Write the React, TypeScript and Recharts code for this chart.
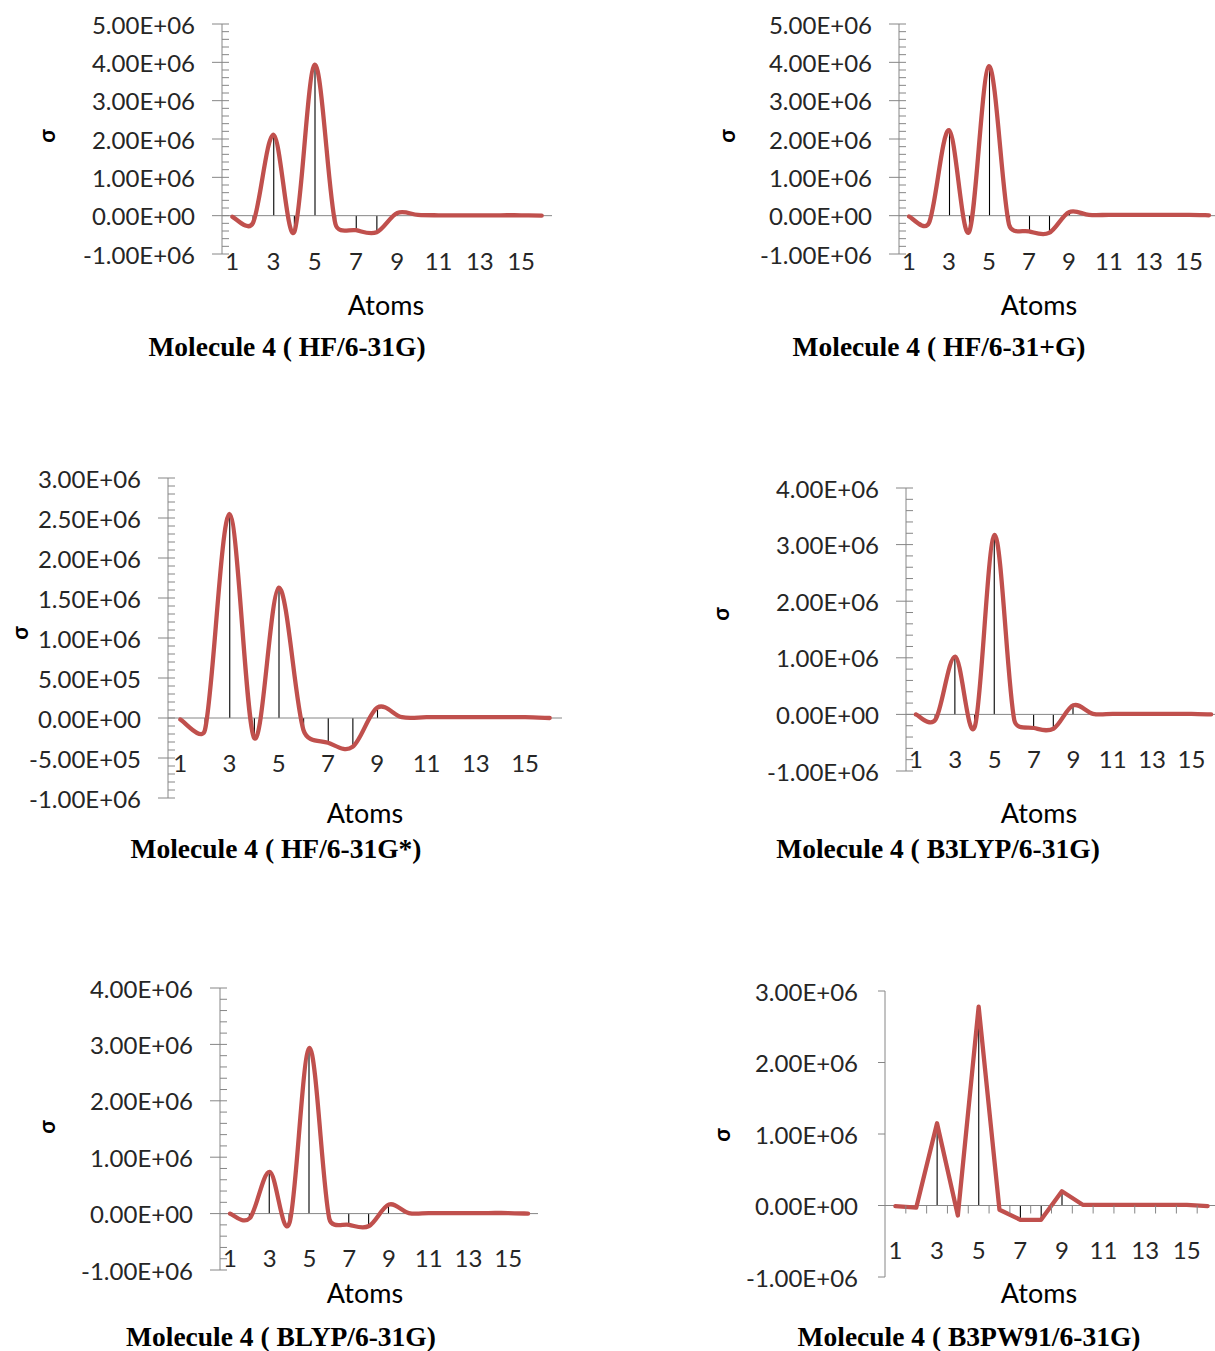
import React from "react"
import { ComposedChart, Line, Bar, XAxis, YAxis, ReferenceLine } from "recharts"

// ── Shared category axis ──────────────────────────────────────────────────────
const atoms = [1, 2, 3, 4, 5, 6, 7, 8, 9, 10, 11, 12, 13, 14, 15, 16]
const labeledAtoms = [1, 3, 5, 7, 9, 11, 13, 15]

// ── Shielding (σ) per atom, one list per method ───────────────────────────────
const sigmaHF631G = [
  -0.03e6, -0.19e6, 2.11e6, -0.43e6, 3.94e6, -0.22e6, -0.38e6, -0.43e6,
  0.07e6, 0.02e6, 0.01e6, 0.01e6, 0.01e6, 0.01e6, 0.01e6, 0.0,
]
const sigmaHF631pG = [
  -0.02e6, -0.19e6, 2.23e6, -0.43e6, 3.9e6, -0.23e6, -0.41e6, -0.45e6,
  0.09e6, 0.02e6, 0.02e6, 0.02e6, 0.02e6, 0.02e6, 0.02e6, 0.01e6,
]
const sigmaHF631Gs = [
  -0.02e6, -0.15e6, 2.55e6, -0.25e6, 1.63e6, -0.15e6, -0.31e6, -0.36e6,
  0.13e6, 0.01e6, 0.01e6, 0.01e6, 0.01e6, 0.01e6, 0.01e6, 0.0,
]
const sigmaB3LYP = [
  0.0, -0.09e6, 1.02e6, -0.21e6, 3.17e6, -0.1e6, -0.24e6, -0.25e6,
  0.16e6, 0.01e6, 0.01e6, 0.01e6, 0.01e6, 0.01e6, 0.01e6, 0.0,
]
const sigmaBLYP = [
  0.0, -0.08e6, 0.74e6, -0.16e6, 2.94e6, -0.09e6, -0.2e6, -0.22e6,
  0.16e6, 0.01e6, 0.01e6, 0.01e6, 0.01e6, 0.01e6, 0.01e6, 0.0,
]
const sigmaB3PW91 = [
  -0.01e6, -0.03e6, 1.15e6, -0.14e6, 2.78e6, -0.06e6, -0.2e6, -0.2e6,
  0.2e6, 0.01e6, 0.01e6, 0.01e6, 0.01e6, 0.01e6, 0.01e6, -0.01e6,
]

// ── Major y ticks ─────────────────────────────────────────────────────────────
const ticks5M = [-1e6, 0, 1e6, 2e6, 3e6, 4e6, 5e6]
const ticks3M = [-1e6, -5e5, 0, 5e5, 1e6, 1.5e6, 2e6, 2.5e6, 3e6]
const ticks4M = [-1e6, 0, 1e6, 2e6, 3e6, 4e6]
const ticks3Mwide = [-1e6, 0, 1e6, 2e6, 3e6]

const RED = "#C0504D"
const AXIS = "#868686"
const TEXT = "#262626"
const SANS = "Lato, 'Open Sans', sans-serif"
const SERIF = "'Liberation Serif', 'Times New Roman', serif"
const TICK_FONT = 24

// Spreadsheet-style smoothed line: Catmull-Rom tangents (1/6 of the neighbour
// chord), with each control arm capped at half of its own segment so short
// segments next to steep ones don't overshoot.
class SmoothCurve {
  _context: any
  _pts: [number, number][] = []
  constructor(context: any) {
    this._context = context
  }
  areaStart() {}
  areaEnd() {}
  lineStart() {
    this._pts = []
  }
  point(x: number, y: number) {
    this._pts.push([+x, +y])
  }
  lineEnd() {
    const p = this._pts
    const ctx = this._context
    const n = p.length
    if (!n) return
    ctx.moveTo(p[0][0], p[0][1])
    if (n === 1) return
    if (n === 2) {
      ctx.lineTo(p[1][0], p[1][1])
      return
    }
    const tan = p.map((_, i) => {
      const a = p[Math.max(i - 1, 0)]
      const b = p[Math.min(i + 1, n - 1)]
      return [(b[0] - a[0]) / 6, (b[1] - a[1]) / 6]
    })
    const cap = (t: number[], d: number) => {
      const l = Math.hypot(t[0], t[1])
      const s = l > d * 0.5 ? (d * 0.5) / l : 1
      return [t[0] * s, t[1] * s]
    }
    for (let i = 0; i < n - 1; i++) {
      const a = p[i]
      const b = p[i + 1]
      const d = Math.hypot(b[0] - a[0], b[1] - a[1])
      const ta = cap(tan[i], d)
      const tb = cap(tan[i + 1], d)
      ctx.bezierCurveTo(a[0] + ta[0], a[1] + ta[1], b[0] - tb[0], b[1] - tb[1], b[0], b[1])
    }
  }
}
const smoothCurve = (context: any) => new SmoothCurve(context)

// e.g. 5.00E+06
function sci(v: number) {
  if (v === 0) return "0.00E+00"
  const exp = Math.floor(Math.log10(Math.abs(v)) + 1e-9)
  const mant = v / Math.pow(10, exp)
  return `${mant.toFixed(2)}E${exp < 0 ? "-" : "+"}${String(Math.abs(exp)).padStart(2, "0")}`
}

interface PanelCfg {
  title: string
  values: number[]
  majors: number[]
  minorStep: number | null
  smooth: boolean
  boundaryTicks: boolean
  axisX: number
  plotTop: number
  plotBottom: number
  plotW: number
  labelDy: number
  sigma: [number, number]
  atomsLabel: [number, number]
  titlePos: [number, number]
}

const panels: PanelCfg[] = [
  {
    title: "Molecule 4 ( HF/6-31G)", values: sigmaHF631G, majors: ticks5M, minorStep: 2e5,
    smooth: true, boundaryTicks: false,
    axisX: 222, plotTop: 24, plotBottom: 254, plotW: 330, labelDy: 6,
    sigma: [47, 136], atomsLabel: [386, 304], titlePos: [287, 347],
  },
  {
    title: "Molecule 4 ( HF/6-31+G)", values: sigmaHF631pG, majors: ticks5M, minorStep: 2e5,
    smooth: true, boundaryTicks: false,
    axisX: 899, plotTop: 24, plotBottom: 254, plotW: 320, labelDy: 6,
    sigma: [727, 136], atomsLabel: [1039, 304], titlePos: [939, 347],
  },
  {
    title: "Molecule 4 ( HF/6-31G*)", values: sigmaHF631Gs, majors: ticks3M, minorStep: 1e5,
    smooth: true, boundaryTicks: false,
    axisX: 168, plotTop: 478, plotBottom: 798, plotW: 394, labelDy: -36,
    sigma: [20, 633], atomsLabel: [365, 812], titlePos: [276, 849],
  },
  {
    title: "Molecule 4 ( B3LYP/6-31G)", values: sigmaB3LYP, majors: ticks4M, minorStep: 2e5,
    smooth: true, boundaryTicks: false,
    axisX: 906, plotTop: 488, plotBottom: 771, plotW: 315, labelDy: -13,
    sigma: [721, 614], atomsLabel: [1039, 812], titlePos: [938, 849],
  },
  {
    title: "Molecule 4 ( BLYP/6-31G)", values: sigmaBLYP, majors: ticks4M, minorStep: 2e5,
    smooth: true, boundaryTicks: false,
    axisX: 220, plotTop: 988, plotBottom: 1270, plotW: 318, labelDy: -13,
    sigma: [47, 1127], atomsLabel: [365, 1292], titlePos: [281, 1337],
  },
  {
    title: "Molecule 4 ( B3PW91/6-31G)", values: sigmaB3PW91, majors: ticks3Mwide, minorStep: null,
    smooth: false, boundaryTicks: true,
    axisX: 885, plotTop: 991, plotBottom: 1277, plotW: 333, labelDy: -28,
    sigma: [722, 1135], atomsLabel: [1039, 1292], titlePos: [969, 1337],
  },
]

const Y_AXIS_W = 150
const TOP_PAD = 20
const X_AXIS_H = 60

// thin black drop line from the point down/up to the zero line
const DropLine = (props: any) => {
  const { x, y, width, height } = props
  if (x == null || y == null || !height) return null
  const cx = x + width / 2
  return <line x1={cx} x2={cx} y1={y} y2={y + height} stroke="#000" strokeWidth={1.1} />
}

function Panel({ cfg }: { cfg: PanelCfg }) {
  const data = atoms.map((atom, i) => ({ atom, sigma: cfg.values[i] }))
  const yMin = cfg.majors[0]
  const yMax = cfg.majors[cfg.majors.length - 1]
  const plotH = cfg.plotBottom - cfg.plotTop
  const band = cfg.plotW / atoms.length
  const zeroOffset = (plotH * -yMin) / (yMax - yMin)

  const yTicks: number[] = []
  if (cfg.minorStep) {
    const n = Math.round((yMax - yMin) / cfg.minorStep)
    for (let i = 0; i <= n; i++) yTicks.push(Math.round(yMin + i * cfg.minorStep))
  } else {
    yTicks.push(...cfg.majors)
  }

  const renderYTick = (props: any) => {
    const { x, y, payload } = props
    const v = payload.value
    const major = cfg.majors.some((m) => Math.abs(m - v) < 1)
    if (!major) {
      return <line x1={x} x2={x + 7} y1={y} y2={y} stroke={AXIS} strokeWidth={1} />
    }
    return (
      <g>
        <line
          x1={x - (cfg.minorStep ? 10 : 7)}
          x2={cfg.minorStep ? x + 7 : x}
          y1={y}
          y2={y}
          stroke={AXIS}
          strokeWidth={1}
        />
        <text
          x={x - 27}
          y={y}
          textAnchor="end"
          dominantBaseline="central"
          fill={TEXT}
          fontFamily={SANS}
          fontSize={TICK_FONT}
        >
          {sci(v)}
        </text>
      </g>
    )
  }

  const renderXTick = (props: any) => {
    const { x, y, payload } = props
    const a = Number(payload.value)
    return (
      <g>
        {cfg.boundaryTicks && (
          <line
            x1={x + band / 2}
            x2={x + band / 2}
            y1={y - zeroOffset}
            y2={y - zeroOffset + 8}
            stroke={AXIS}
            strokeWidth={1}
          />
        )}
        {labeledAtoms.includes(a) && (
          <text
            x={x}
            y={y + cfg.labelDy}
            textAnchor="middle"
            dominantBaseline="central"
            fill={TEXT}
            fontFamily={SANS}
            fontSize={TICK_FONT}
          >
            {a}
          </text>
        )}
      </g>
    )
  }

  const chartW = Y_AXIS_W + cfg.plotW + 10
  const chartH = TOP_PAD + plotH + X_AXIS_H

  return (
    <>
      <div style={{ position: "absolute", left: cfg.axisX - Y_AXIS_W, top: cfg.plotTop - TOP_PAD }}>
        <ComposedChart
          width={chartW}
          height={chartH}
          data={data}
          margin={{ top: TOP_PAD, right: 10, bottom: 0, left: 0 }}
          barCategoryGap={0}
        >
          <XAxis
            dataKey="atom"
            type="category"
            height={X_AXIS_H}
            axisLine={false}
            tickLine={false}
            tickSize={0}
            tickMargin={0}
            interval={0}
            tick={renderXTick}
          />
          <YAxis
            type="number"
            domain={[yMin, yMax]}
            ticks={yTicks}
            interval={0}
            width={Y_AXIS_W}
            allowDataOverflow
            axisLine={{ stroke: AXIS, strokeWidth: 1 }}
            tickLine={false}
            tickSize={0}
            tickMargin={0}
            tick={renderYTick}
          />
          <ReferenceLine y={0} stroke={AXIS} strokeWidth={1} ifOverflow="extendDomain" />
          <Line
            dataKey="sigma"
            type={cfg.smooth ? (smoothCurve as any) : "linear"}
            stroke={RED}
            strokeWidth={4.3}
            strokeLinecap="round"
            strokeLinejoin="round"
            dot={false}
            activeDot={false}
            isAnimationActive={false}
          />
          {/* drop lines from each point to the category axis */}
          <Bar dataKey="sigma" barSize={1} fill="#000" shape={DropLine} isAnimationActive={false} />
        </ComposedChart>
      </div>
      <div
        style={{
          position: "absolute",
          left: cfg.sigma[0],
          top: cfg.sigma[1],
          transform: "translate(-50%, -50%) rotate(-90deg)",
          fontFamily: SANS,
          fontWeight: 700,
          fontSize: 22,
          color: "#000",
          lineHeight: 1,
        }}
      >
        σ
      </div>
      <div
        style={{
          position: "absolute",
          left: cfg.atomsLabel[0],
          top: cfg.atomsLabel[1],
          transform: "translate(-50%, -50%)",
          fontFamily: SANS,
          fontSize: 27,
          color: "#000",
          lineHeight: 1,
          whiteSpace: "nowrap",
        }}
      >
        Atoms
      </div>
      <div
        style={{
          position: "absolute",
          left: cfg.titlePos[0],
          top: cfg.titlePos[1],
          transform: "translate(-50%, -50%)",
          fontFamily: SERIF,
          fontWeight: 700,
          fontSize: 27.5,
          color: "#000",
          lineHeight: 1,
          whiteSpace: "pre",
        }}
      >
        {cfg.title}
      </div>
    </>
  )
}

export default function App() {
  return (
    <div
      style={{
        position: "absolute",
        left: 0,
        top: 0,
        width: 1215,
        height: 1351,
        overflow: "hidden",
        background: "#fff",
      }}
    >
      {panels.map((p) => (
        <Panel key={p.title} cfg={p} />
      ))}
    </div>
  )
}
